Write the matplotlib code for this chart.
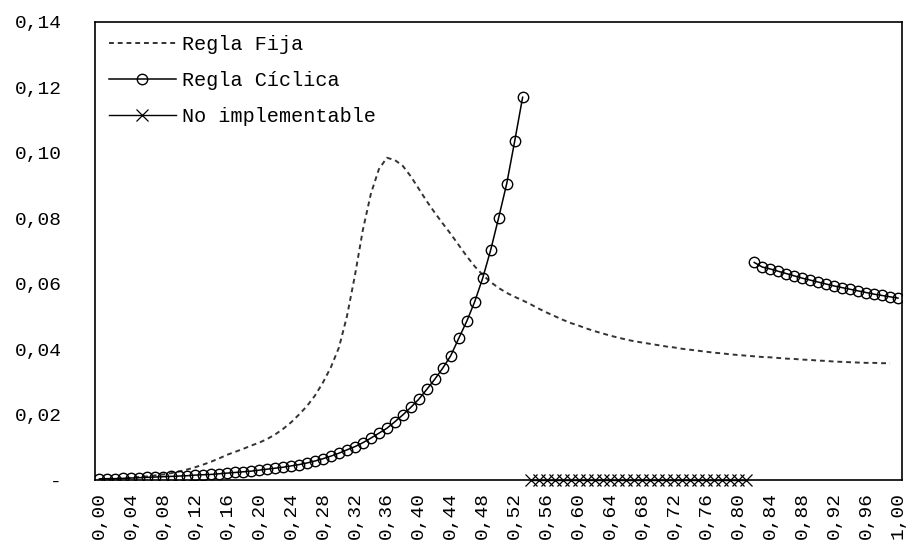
import numpy as np
import matplotlib
matplotlib.use("Agg")
import matplotlib.pyplot as plt
from matplotlib.ticker import FixedLocator

plt.rcParams['font.family'] = ['Liberation Mono', 'DejaVu Sans Mono']

# x categories 0,00 .. 1,00 (step 0,01)
x_all = np.arange(101) / 100

# Regla Fija: 0,00 .. 0,99
fija = [0.0003, 0.0003, 0.0004, 0.0005, 0.0007, 0.0009, 0.0011, 0.0014, 0.0017, 0.0021,
        0.0026, 0.0032, 0.0039, 0.0047, 0.0056, 0.0066, 0.0077, 0.0086, 0.0095, 0.0105,
        0.0114, 0.0125, 0.0139, 0.0156, 0.0176, 0.0200, 0.0226, 0.0258, 0.0298, 0.0345,
        0.0405, 0.0500, 0.0625, 0.0765, 0.0875, 0.0950, 0.0985, 0.0978, 0.0960, 0.0928,
        0.0890, 0.0852, 0.0817, 0.0784, 0.0752, 0.0718, 0.0684, 0.0653, 0.0627, 0.0605,
        0.0587, 0.0572, 0.0560, 0.0549, 0.0537, 0.0524, 0.0512, 0.0501, 0.0490, 0.0480,
        0.0472, 0.0463, 0.0455, 0.0448, 0.0441, 0.0435, 0.0429, 0.0424, 0.0420, 0.0416,
        0.0412, 0.0408, 0.0405, 0.0401, 0.0398, 0.0395, 0.0392, 0.0389, 0.0387, 0.0384,
        0.0382, 0.0380, 0.0378, 0.0376, 0.0375, 0.0373, 0.0371, 0.0370, 0.0368, 0.0367,
        0.0365, 0.0364, 0.0362, 0.0361, 0.0360, 0.0359, 0.0358, 0.0358, 0.0357, 0.0357]

# Regla Cíclica: 0,00 .. 0,53 and 0,82 .. 1,00
ciclica_a = [0.0003, 0.0004, 0.0004, 0.0005, 0.0006, 0.0007, 0.0008, 0.0009, 0.0010, 0.0011,
             0.0012, 0.0013, 0.0015, 0.0016, 0.0017, 0.0019, 0.0021, 0.0023, 0.0025, 0.0027,
             0.0030, 0.0033, 0.0036, 0.0039, 0.0043, 0.0047, 0.0052, 0.0058, 0.0065, 0.0073,
             0.0082, 0.0092, 0.0102, 0.0114, 0.0128, 0.0143, 0.0158, 0.0178, 0.0199, 0.0222,
             0.0247, 0.0277, 0.0308, 0.0342, 0.0380, 0.0433, 0.0485, 0.0545, 0.0617, 0.0703,
             0.0802, 0.0905, 0.1035, 0.1170]
ciclica_b = [0.0665, 0.0651, 0.0645, 0.0638, 0.0631, 0.0624, 0.0617, 0.0611, 0.0605, 0.0599,
             0.0593, 0.0588, 0.0583, 0.0578, 0.0573, 0.0568, 0.0564, 0.0560, 0.0556]

# No implementable: 0,54 .. 0,81
no_impl = [0.0] * 28

y_ticks = [0, 0.02, 0.04, 0.06, 0.08, 0.10, 0.12, 0.14]
y_labels = ['-', '0,02', '0,04', '0,06', '0,08', '0,10', '0,12', '0,14']

fig = plt.figure(figsize=(9.08, 5.54), dpi=100)
ax = fig.add_axes([0.105, 0.1336, 0.8884, 0.8267])

ax.plot(x_all[:100], fija, color='#333333', ls=(0, (2.5, 2)), lw=1.4, label='Regla Fija')
ax.plot(x_all[:54], ciclica_a, color='black', lw=1.1, marker='o', ms=7.5, mfc='none',
        mec='black', mew=1, label='Regla Cíclica')
ax.plot(x_all[82:], ciclica_b, color='black', lw=1.1, marker='o', ms=7.5, mfc='none',
        mec='black', mew=1)
ax.plot(x_all[54:82], no_impl, color='black', lw=1, marker='x', ms=8, mew=0.9,
        label='No implementable', clip_on=False, zorder=3)

ax.set_xlim(-0.005, 1.005)
ax.set_ylim(0, 0.14)
ax.set_yticks(y_ticks)
ax.set_yticklabels(y_labels)
ax.xaxis.set_major_locator(FixedLocator(x_all[::4]))
ax.set_xticklabels([f"{v:.2f}".replace('.', ',') for v in x_all[::4]], rotation=90)
ax.tick_params(axis='both', length=0, labelsize=14)
ax.tick_params(axis='y', pad=24)
ax.tick_params(axis='x', pad=9)
for s in ax.spines.values():
    s.set_linewidth(1.2)
    s.set_color('black')

ax.legend(loc='upper left', bbox_to_anchor=(0.012, 0.98), frameon=False, fontsize=14.5,
          handlelength=3.3, handletextpad=0.3, labelspacing=0.85, borderaxespad=0,
          borderpad=0.2)

fig.savefig('out.png', dpi=100)
